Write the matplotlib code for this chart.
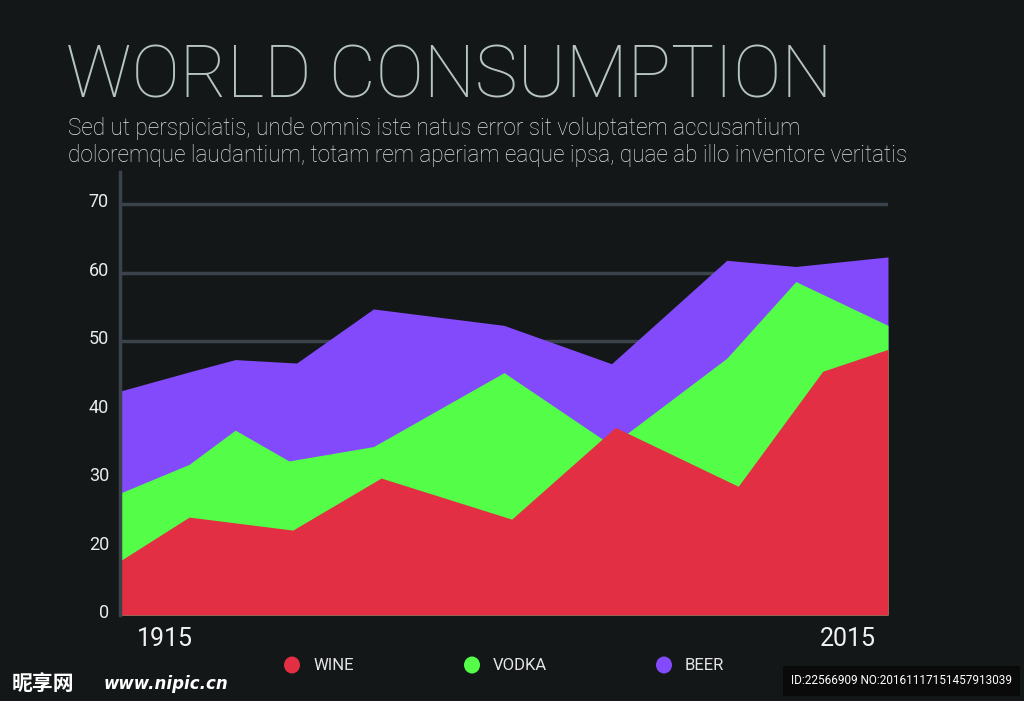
import matplotlib
matplotlib.use("Agg")
import matplotlib.pyplot as plt
import matplotlib.transforms as mtransforms
from matplotlib.patches import Ellipse

# ---- data (y in gridline units) ----
wine_years = [1915, 1924, 1937.5, 1949, 1966, 1979.5, 1995.5, 2006.5, 2015]
wine_vals = [17.9, 24.3, 22.4, 30.0, 24.0, 37.4, 28.8, 45.6, 48.8]

vodka_years = [1915, 1924, 1930, 1937, 1948, 1965, 1979, 1994, 2003, 2015]
vodka_vals = [27.8, 32.0, 37.0, 32.5, 34.6, 45.4, 34.8, 47.5, 58.7, 52.3]

beer_years = [1915, 1924, 1930, 1938, 1948, 1965, 1979, 1994, 2003, 2015]
beer_vals = [42.7, 45.5, 47.3, 46.8, 54.7, 52.3, 46.7, 61.8, 60.9, 62.3]

ytick_vals = [10, 20, 30, 40, 50, 60, 70]
ytick_labels = ["0", "20", "30", "40", "50", "60", "70"]
x_labels = ["1915", "2015"]
legend_labels = ["WINE", "VODKA", "BEER"]

BG = "#131718"
RED = "#e22f43"
GREEN = "#53fd48"
PURPLE = "#834afc"
GRID = "#3a4349"
TXT = "#b7c4c4"

plt.rcParams['font.family'] = ['Roboto', 'DejaVu Sans']

fig = plt.figure(figsize=(10.24, 7.01), dpi=100, facecolor=BG)
ax = fig.add_axes([120/1024, 1-615/701, 768/1024, (615-172)/701])
ax.set_facecolor(BG)

ax.set_xlim(1915, 2015)
ax.set_ylim(10, 74.7)

ax.set_yticks(ytick_vals)
ax.set_yticklabels(ytick_labels)
ax.yaxis.grid(True, color=GRID, linewidth=2.5, zorder=0)
ax.set_axisbelow(True)
ax.tick_params(axis='y', length=0, pad=8, labelsize=13, labelcolor="#e8ecec")
ax.set_xticks([])
for s in ['top', 'right', 'bottom']:
    ax.spines[s].set_visible(False)
ax.spines['left'].set_color(GRID)
ax.spines['left'].set_linewidth(2.5)
ax.spines['left'].set_zorder(5)

offset = mtransforms.ScaledTranslation(0, 4/100, fig.dpi_scale_trans)
for lbl in ax.get_yticklabels():
    lbl.set_transform(lbl.get_transform() + offset)

ax.fill_between(beer_years, 10, beer_vals, color=PURPLE, linewidth=0, zorder=2)
ax.fill_between(vodka_years, 10, vodka_vals, color=GREEN, linewidth=0, zorder=3)
ax.fill_between(wine_years, 10, wine_vals, color=RED, linewidth=0, zorder=4)

# Title and subtitle
fig.text(66/1024, 1-97/701, "WORLD CONSUMPTION", color=TXT, fontsize=52,
         fontweight='light', ha='left', va='baseline')
fig.text(68/1024, 1-135/701, "Sed ut perspiciatis, unde omnis iste natus error sit voluptatem accusantium",
         color="#dfe6e6", fontsize=16.3, fontweight='light', ha='left', va='baseline')
fig.text(68/1024, 1-162/701, "doloremque laudantium, totam rem aperiam eaque ipsa, quae ab illo inventore veritatis",
         color="#dfe6e6", fontsize=16.3, fontweight='light', ha='left', va='baseline')

# X end labels
fig.text(137/1024, 1-646/701, x_labels[0], color="#f2f2f2", fontsize=18, ha='left', va='baseline')
fig.text(876/1024, 1-646/701, x_labels[1], color="#f2f2f2", fontsize=18, ha='right', va='baseline')

# Legend
leg_x = [292, 472, 664]
leg_colors = [RED, GREEN, PURPLE]
for x, c, lab in zip(leg_x, leg_colors, legend_labels):
    fig.patches.append(Ellipse((x/1024, 1-665/701), 16/1024, 17/701, transform=fig.transFigure,
                               facecolor=c, edgecolor='none'))
    fig.text((x+21)/1024, 1-665/701, lab, color="#e6e6e6", fontsize=12, ha='left', va='center')

# Watermarks
fig.text(12/1024, 1-684/701, "昵享网", color="#ffffff", fontsize=15, fontweight='bold',
         family=['Noto Sans CJK SC', 'DejaVu Sans'], style='italic', ha='left', va='center')
fig.text(104/1024, 1-684/701, "www.nipic.cn", color="#ffffff", fontsize=12, fontweight='bold',
         style='italic', family=['DejaVu Sans'], ha='left', va='center')
fig.text(1012/1024, 1-681/701, "ID:22566909 NO:20161117151457913039", color="#ffffff", fontsize=8.5,
         ha='right', va='center',
         bbox=dict(facecolor="#0a0a0a", edgecolor='none', pad=6))

fig.savefig("out.png", dpi=100, facecolor=BG)
